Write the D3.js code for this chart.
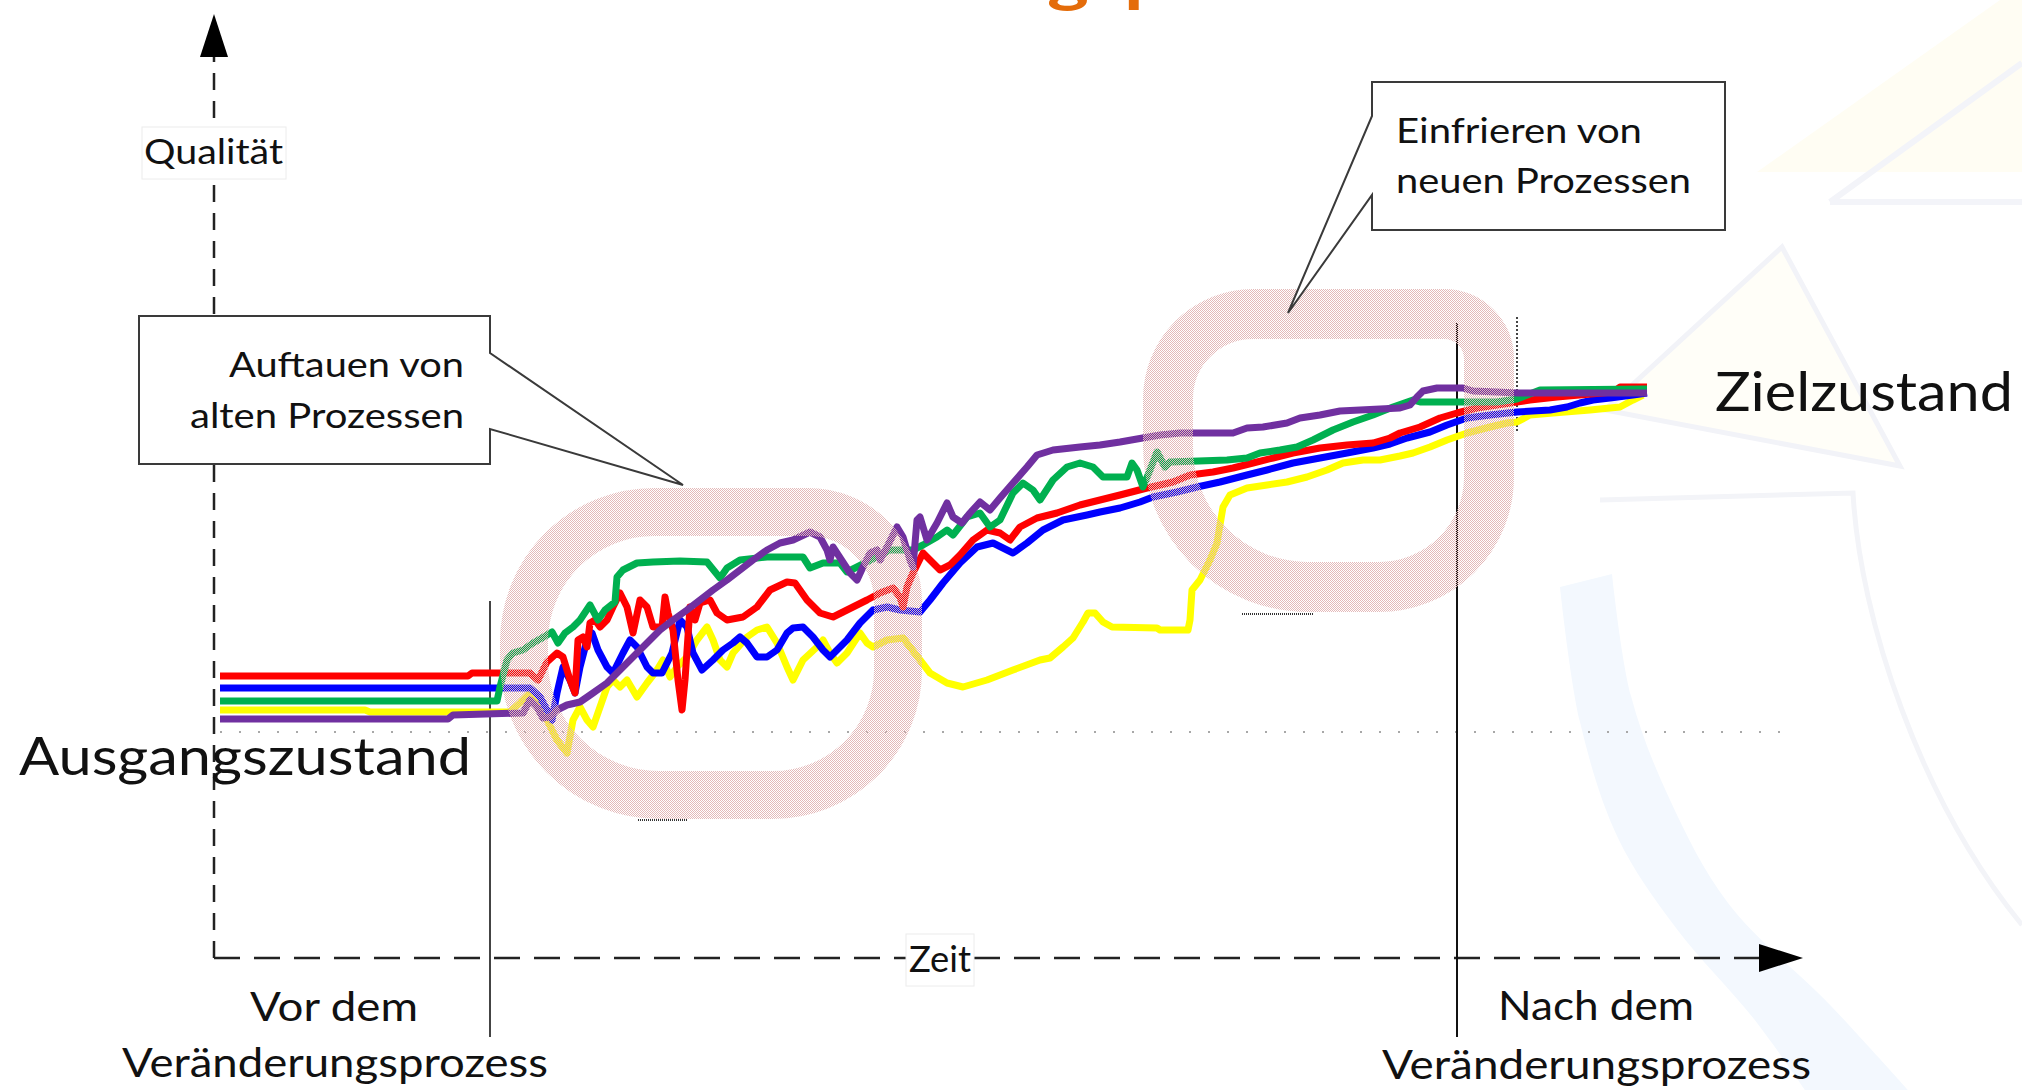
<!DOCTYPE html>
<html>
<head>
<meta charset="utf-8">
<script src="https://cdn.jsdelivr.net/npm/d3@7"></script>
<style>
  html, body { margin: 0; padding: 0; background: #ffffff; }
  svg { display: block; }
  text { font-family: Lato, "Open Sans", sans-serif; fill: #111; }
</style>
</head>
<body>
<script>
// ---- Quality over time for five processes: [time, quality] ----
const red = [[0.6,28.2],[25.4,28.2],[25.8,28.5],[31.6,28.5],[32.4,27.8],[33.3,29.6],[34.3,30.5],[34.9,30.1],[35.6,27.8],[36.1,26.5],[36.4,31.8],[36.9,32.1],[37.3,31.1],[37.6,33.5],[38.1,33.8],[38.6,33.1],[39.3,33.8],[39.9,35.1],[40.6,36.5],[41.3,35.1],[41.9,32.5],[42.6,35.8],[43.3,35.1],[43.9,33.1],[44.8,33.1],[45.1,36.1],[45.4,34.5],[45.9,32.8],[46.4,27.8],[46.8,24.8],[47.1,27.8],[47.6,35.1],[48.1,33.8],[48.6,35.5],[49.6,35.8],[50.3,34.5],[51.3,33.8],[52.9,34.1],[54.3,35.1],[55.6,36.8],[57.3,37.6],[58.1,37.5],[59.3,35.8],[60.6,34.5],[61.9,34.1],[63.3,34.8],[65.3,35.8],[66.6,36.5],[67.9,37.0],[68.6,36.1],[68.9,35.1],[69.3,37.1],[69.9,38.5],[70.9,40.5],[71.6,39.8],[72.6,38.8],[73.6,39.3],[74.6,40.3],[75.9,41.8],[77.3,42.8],[78.6,42.5],[79.6,41.8],[80.6,43.1],[82.3,44.0],[84.3,44.5],[86.6,45.3],[88.6,45.8],[90.6,46.3],[93.3,47.0],[95.9,47.6],[97.6,48.3],[99.9,48.6],[101.9,49.0],[103.9,49.5],[105.9,50.0],[107.9,50.5],[110.6,51.0],[113.3,51.3],[115.9,51.5],[117.6,52.0],[118.6,52.5],[120.6,53.1],[122.6,54.0],[124.3,54.5],[126.3,55.0],[128.3,55.3],[130.3,55.6],[131.6,55.8],[134.3,56.1],[139.9,56.6],[140.6,57.1],[143.3,57.1]];

const blue = [[0.6,27.0],[31.6,27.0],[32.6,26.1],[33.3,24.8],[33.8,23.8],[34.3,26.5],[34.9,29.1],[35.6,27.8],[36.1,26.5],[36.6,29.1],[37.3,31.8],[37.8,32.5],[38.4,30.8],[39.3,29.1],[39.9,28.5],[40.9,30.5],[41.6,31.8],[42.3,31.1],[43.3,29.1],[43.9,28.5],[44.8,28.5],[45.8,30.5],[46.6,33.8],[47.3,33.1],[47.9,30.5],[48.8,28.8],[49.9,29.8],[50.9,30.8],[51.9,31.5],[52.6,32.1],[53.3,31.5],[54.3,30.1],[55.3,30.1],[56.3,30.8],[57.3,32.5],[57.9,33.0],[58.9,33.1],[59.9,32.1],[60.9,30.8],[61.6,30.1],[62.3,30.8],[63.3,31.8],[64.6,33.5],[65.9,34.8],[67.3,35.1],[68.6,34.8],[70.6,34.6],[71.6,35.8],[72.9,37.5],[74.6,39.5],[76.3,41.1],[77.9,41.5],[79.9,40.5],[81.3,41.5],[82.9,42.8],[84.9,43.8],[87.3,44.3],[88.6,44.6],[90.6,45.0],[92.6,45.6],[93.9,46.1],[96.3,46.6],[98.3,47.1],[100.6,47.6],[103.3,48.3],[105.3,48.8],[107.9,49.5],[110.6,50.0],[113.3,50.5],[115.9,51.0],[117.6,51.4],[119.3,52.0],[121.6,52.6],[123.3,53.3],[125.3,54.0],[127.6,54.3],[130.3,54.6],[133.6,54.8],[135.3,55.1],[136.6,55.5],[137.9,55.8],[139.6,56.0],[141.9,56.3],[143.3,56.5]];

const green = [[0.6,25.7],[28.3,25.7],[28.6,27.1],[29.3,29.8],[29.9,30.5],[30.9,30.8],[31.9,31.5],[32.8,32.0],[33.8,32.6],[34.4,31.5],[35.1,32.5],[35.9,33.1],[36.6,33.8],[37.6,35.3],[38.4,33.8],[39.1,34.8],[40.1,35.6],[40.3,38.1],[40.9,38.8],[42.3,39.5],[43.9,39.6],[46.6,39.7],[49.3,39.6],[50.6,38.0],[51.3,39.0],[52.6,39.8],[55.3,40.1],[58.9,40.1],[59.6,39.0],[60.9,39.5],[62.6,39.5],[63.3,38.6],[64.3,39.1],[67.6,40.8],[69.9,40.8],[70.9,41.3],[72.3,42.1],[73.3,42.8],[73.9,42.3],[75.3,44.1],[76.6,44.5],[77.6,43.1],[78.6,43.8],[79.9,46.5],[80.9,47.5],[81.9,46.8],[82.6,45.8],[83.9,47.8],[85.3,49.1],[86.6,49.5],[87.9,49.1],[88.9,48.1],[91.3,48.1],[91.8,49.5],[92.3,48.8],[92.9,47.1],[93.6,48.8],[94.3,50.6],[95.1,49.1],[95.6,49.6],[101.3,49.8],[103.3,50.0],[104.6,50.5],[106.6,50.8],[108.3,51.1],[109.9,51.8],[111.9,52.8],[113.9,53.6],[115.9,54.3],[117.9,55.1],[119.9,55.8],[120.6,55.6],[128.3,55.6],[130.3,55.9],[132.6,56.8],[143.3,56.9]];

const yellow = [[0.6,24.8],[15.1,24.8],[15.6,24.6],[29.6,24.6],[30.6,25.5],[31.6,26.5],[32.3,26.1],[33.3,23.8],[34.3,21.8],[35.3,20.5],[35.9,23.8],[36.6,25.1],[37.3,23.8],[37.9,23.1],[38.6,25.1],[39.3,27.1],[39.9,27.8],[40.6,27.1],[41.3,27.8],[42.3,26.1],[43.3,27.5],[44.3,28.8],[44.9,29.8],[45.6,28.1],[46.3,29.1],[47.3,30.1],[48.3,31.8],[49.3,33.1],[49.9,31.8],[50.6,29.8],[51.3,29.1],[51.9,30.5],[53.3,32.1],[54.3,32.8],[55.3,33.1],[56.3,31.5],[57.3,29.1],[57.9,27.8],[58.9,29.8],[60.3,31.1],[60.9,31.8],[61.6,30.5],[62.3,29.5],[63.3,30.5],[64.6,32.5],[65.3,31.5],[65.9,31.1],[67.3,31.8],[68.9,32.0],[69.6,31.1],[70.6,29.8],[71.6,28.5],[73.3,27.5],[74.9,27.1],[77.3,27.8],[79.9,28.8],[82.6,29.8],[83.6,30.0],[84.9,31.1],[85.9,32.0],[86.9,33.6],[87.4,34.5],[88.1,34.5],[88.9,33.6],[89.8,33.1],[94.3,33.0],[94.6,32.8],[97.4,32.8],[97.6,33.8],[97.8,36.8],[98.6,37.8],[99.6,39.8],[100.3,41.5],[100.9,45.1],[101.6,46.3],[103.3,47.0],[105.3,47.3],[107.3,47.6],[109.3,48.1],[111.3,48.8],[112.9,49.5],[114.9,49.8],[116.6,49.8],[118.6,50.2],[119.9,50.5],[121.6,51.1],[123.3,51.8],[125.3,52.5],[127.6,53.1],[129.3,53.5],[130.3,53.6],[131.6,54.3],[133.9,54.5],[137.6,54.8],[140.6,55.1],[141.9,55.8],[142.9,56.3]];

const purple = [[0.6,23.9],[23.4,23.9],[23.9,24.3],[30.9,24.5],[31.6,25.8],[32.3,25.1],[32.9,24.0],[33.6,24.1],[34.3,24.8],[35.3,25.3],[36.6,25.6],[37.9,26.5],[39.3,27.5],[40.6,28.8],[41.9,30.1],[43.3,31.5],[44.6,32.8],[45.9,33.8],[47.3,34.8],[48.6,35.8],[49.9,36.8],[51.3,37.8],[52.6,38.8],[53.9,39.8],[55.3,40.8],[56.6,41.5],[57.9,41.8],[59.6,42.6],[60.6,42.1],[61.3,40.8],[61.6,39.8],[61.9,41.1],[63.6,38.5],[64.3,37.8],[64.9,39.1],[65.6,40.5],[66.3,40.8],[66.6,39.8],[67.3,41.1],[68.3,43.1],[68.9,42.1],[69.6,39.8],[69.9,39.1],[70.3,43.8],[70.6,44.1],[71.3,41.8],[72.3,43.5],[73.3,45.5],[73.9,44.1],[74.8,43.5],[75.6,44.5],[76.6,45.6],[77.6,44.8],[78.6,46.0],[79.9,47.5],[81.3,49.1],[82.3,50.3],[83.9,50.8],[86.6,51.1],[88.6,51.3],[90.6,51.6],[92.3,51.9],[94.6,52.3],[96.6,52.5],[101.9,52.5],[103.3,53.0],[104.9,53.1],[107.3,53.5],[108.6,54.0],[110.6,54.3],[112.6,54.7],[116.6,54.9],[118.6,55.0],[119.6,55.3],[120.3,56.1],[120.9,56.7],[122.3,57.0],[124.9,57.0],[125.9,56.7],[128.3,56.6],[130.3,56.5],[143.3,56.5]];

// Phase markers on the time axis and the starting quality level
const phaseStart = 27.6;   // end of "Vor dem Veränderungsprozess"
const phaseEnd = 124.3;    // start of "Nach dem Veränderungsprozess"
const phaseEndAlt = 130.3;
const startLevel = 22.6;

const seriesNames = ["gelb", "blau", "rot", "grün", "lila"];
const seriesData = [yellow, blue, red, green, purple];
const seriesColors = ["#ffff00", "#0000ff", "#ff0000", "#00b050", "#7030a0"];

const axisLabels = { y: "Qualität", x: "Zeit" };
const stateLabels = { start: "Ausgangszustand", target: "Zielzustand" };
const phaseLabels = { before: ["Vor dem", "Veränderungsprozess"], after: ["Nach dem", "Veränderungsprozess"] };
const calloutThaw = ["Auftauen von", "alten Prozessen"];
const calloutFreeze = ["Einfrieren von", "neuen Prozessen"];
const titleText = "Veränderungsprozess";

// ---- Canvas ----
const W = 2022, H = 1090;
const svg = d3.select("body").append("svg").attr("width", W).attr("height", H);

const x = d3.scaleLinear().domain([0, 158.9]).range([214, 1803]);
const y = d3.scaleLinear().domain([0, 94.4]).range([958, 14]);

const defs = svg.append("defs");
const hatch = defs.append("pattern").attr("id", "hatch")
  .attr("patternUnits", "userSpaceOnUse").attr("width", 2).attr("height", 2);
hatch.append("rect").attr("x", 0).attr("y", 0).attr("width", 1).attr("height", 1).attr("fill", "#e4b9b9");
hatch.append("rect").attr("x", 1).attr("y", 1).attr("width", 1).attr("height", 1).attr("fill", "#e4b9b9");

// ---- Faint slide background decoration ----
const bg = svg.append("g");
bg.append("polygon").attr("points", "1757,172 2000,0 2022,0 2022,172").attr("fill", "#fffdf3");
bg.append("path").attr("d", "M1830,202 L2022,63 M1830,202 L2022,202").attr("stroke", "#f3f4f9").attr("stroke-width", 6).attr("fill", "none");
bg.append("polygon").attr("points", "1782,247 1900,466 1605,410").attr("fill", "#fffef8").attr("stroke", "#f2f3f8").attr("stroke-width", 5);
bg.append("path").attr("d", "M1600,500 L1853,493 C1860,620 1920,800 2022,925")
  .attr("stroke", "#f3f4f8").attr("stroke-width", 5).attr("fill", "none");
const bandL = [[1560,587],[1580,722],[1618,838],[1676,928],[1754,1019],[1805,1090]];
const bandR = [[1908,1090],[1831,1006],[1728,903],[1670,800],[1631,696],[1612,574]];
bg.append("path").attr("d", d3.line().curve(d3.curveCatmullRom)(bandL) + "L" + d3.line().curve(d3.curveCatmullRom)(bandR).slice(1) + "Z")
  .attr("fill", "#f3f8fe");

// ---- Title (runs above the visible area) ----
const title = svg.append("text").text(titleText)
  .attr("x", 0).attr("y", 0)
  .attr("font-size", 60).attr("font-weight", 700)
  .style("fill", "#e46c0a");
{
  const n = title.node();
  const gx = n.getStartPositionOfChar(titleText.indexOf("g")).x;
  const px = n.getStartPositionOfChar(titleText.indexOf("p")).x;
  const sx = (1124 - 1047) / (px - gx);
  title.attr("transform", `translate(${1047 - gx * sx},0) scale(${sx},1)`);
}

// ---- Axes ----
const axes = svg.append("g").attr("stroke", "#222").attr("stroke-width", 2.5).attr("fill", "none");
axes.append("line").attr("x1", x(0)).attr("x2", x(0)).attr("y1", y(0)).attr("y2", y(94.4) + 43)
  .attr("stroke-dasharray", "17,11");
axes.append("line").attr("x1", x(0)).attr("x2", x(158.9) - 44).attr("y1", y(0)).attr("y2", y(0))
  .attr("stroke-dasharray", "26,14");
svg.append("polygon").attr("fill", "#000")
  .attr("points", [[x(0), y(94.4)], [x(0) - 14, y(94.4) + 43], [x(0) + 14, y(94.4) + 43]].join(" "));
svg.append("polygon").attr("fill", "#000")
  .attr("points", [[x(158.9), y(0)], [x(158.9) - 44, y(0) - 14], [x(158.9) - 44, y(0) + 14]].join(" "));

// Starting level guide
svg.append("line").attr("x1", x(0.6)).attr("x2", x(157.1)).attr("y1", y(startLevel)).attr("y2", y(startLevel))
  .attr("stroke", "#a8a8a8").attr("stroke-width", 2).attr("stroke-dasharray", "2,17");

// Phase boundaries
svg.append("line").attr("x1", x(phaseStart)).attr("x2", x(phaseStart)).attr("y1", 601).attr("y2", 1037)
  .attr("stroke", "#444").attr("stroke-width", 2);
svg.append("line").attr("x1", x(phaseEnd)).attr("x2", x(phaseEnd)).attr("y1", 323).attr("y2", 1037)
  .attr("stroke", "#111").attr("stroke-width", 2);
svg.append("line").attr("x1", x(phaseEndAlt)).attr("x2", x(phaseEndAlt)).attr("y1", 317).attr("y2", 432)
  .attr("stroke", "#444").attr("stroke-width", 2).attr("stroke-dasharray", "2,2");

// ---- Series lines ----
const line = d3.line().x(d => x(d[0])).y(d => y(d[1]));
svg.append("g").selectAll("path").data(seriesData).join("path")
  .attr("class", (d, i) => "series " + seriesNames[i])
  .attr("d", line)
  .attr("fill", "none")
  .attr("stroke", (d, i) => seriesColors[i])
  .attr("stroke-width", 7)
  .attr("stroke-linejoin", "round");

// ---- Highlight rings ----
function roundedRect(x0, y0, x1, y1, tl, tr, br, bl) {
  return `M${x0 + tl},${y0} L${x1 - tr},${y0} A${tr},${tr} 0 0 1 ${x1},${y0 + tr} ` +
         `L${x1},${y1 - br} A${br},${br} 0 0 1 ${x1 - br},${y1} L${x0 + bl},${y1} ` +
         `A${bl},${bl} 0 0 1 ${x0},${y1 - bl} L${x0},${y0 + tl} A${tl},${tl} 0 0 1 ${x0 + tl},${y0} Z`;
}
const rings = svg.append("g").attr("fill", "none").attr("stroke", "url(#hatch)");
rings.append("path").attr("d", roundedRect(524, 512, 898, 795, 130, 90, 125, 135)).attr("stroke-width", 48);
rings.append("path").attr("d", roundedRect(1168, 314, 1489, 587, 85, 45, 110, 140)).attr("stroke-width", 50);
svg.append("path").attr("d", "M638,820 L687,820 M1242,614 L1313,614")
  .attr("stroke", "#333").attr("stroke-width", 2).attr("stroke-dasharray", "1,1");

// ---- Callouts ----
const call = svg.append("g").attr("fill", "#fff").attr("stroke", "#3a3a3a").attr("stroke-width", 2);
call.append("path").attr("d", "M139,316 L490,316 L490,353 L683,485 L490,429 L490,464 L139,464 Z");
call.append("path").attr("d", "M1372,82 L1725,82 L1725,230 L1372,230 L1372,195 L1288,313 L1372,116 Z");

function label(str, x0, base, size, width) {
  return svg.append("text").text(str).attr("x", x0).attr("y", base)
    .attr("font-size", size).attr("textLength", width).attr("lengthAdjust", "spacingAndGlyphs");
}
label(calloutThaw[0], 229, 377, 34, 235);
label(calloutThaw[1], 190, 428, 34, 274);
label(calloutFreeze[0], 1396, 143, 35, 246);
label(calloutFreeze[1], 1396, 193, 35, 295);

// Axis labels on white tags
svg.append("rect").attr("x", 142).attr("y", 127).attr("width", 144).attr("height", 52)
  .attr("fill", "#fff").attr("stroke", "#ececec").attr("stroke-width", 1);
label(axisLabels.y, 144, 164, 34, 139);
svg.append("rect").attr("x", 906).attr("y", 934).attr("width", 68).attr("height", 52)
  .attr("fill", "#fff").attr("stroke", "#ececec").attr("stroke-width", 1);
label(axisLabels.x, 909, 972, 36, 62);

// State and phase labels
label(stateLabels.start, 19, 775, 52, 452);
label(stateLabels.target, 1715, 411, 54, 298);
label(phaseLabels.before[0], 250, 1021, 40, 168);
label(phaseLabels.before[1], 122, 1077, 40, 426);
label(phaseLabels.after[0], 1498, 1020, 40, 196);
label(phaseLabels.after[1], 1382, 1079, 40, 429);
</script>
</body>
</html>
